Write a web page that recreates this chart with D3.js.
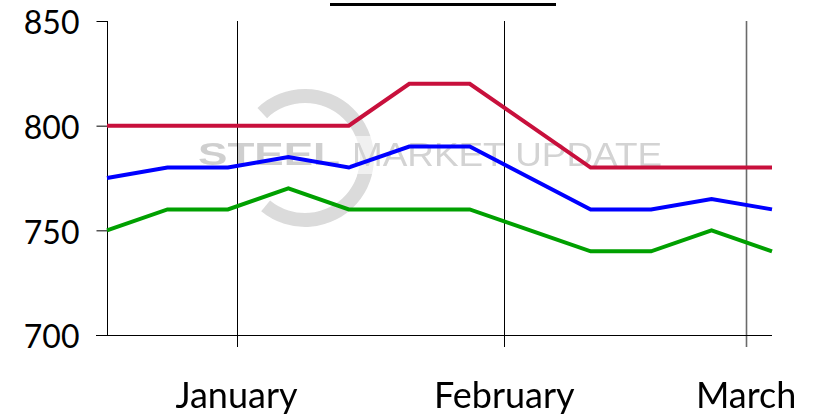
<!DOCTYPE html>
<html>
<head>
<meta charset="utf-8">
<script src="https://cdn.jsdelivr.net/npm/d3@7"></script>
<style>
  html, body { margin: 0; padding: 0; background: #fff; }
  svg { display: block; }
</style>
</head>
<body>
<svg id="chart" width="815" height="418"></svg>
<script>
// ---- data ----
const weeks = ["2018-12-17","2018-12-24","2018-12-31","2019-01-07","2019-01-14","2019-01-21",
               "2019-01-28","2019-02-04","2019-02-11","2019-02-18","2019-02-25","2019-03-04"];
const redSeries   = [800, 800, 800, 800, 800, 820, 820, 800, 780, 780, 780, 780];
const blueSeries  = [775, 780, 780, 785, 780, 790, 790, 775, 760, 760, 765, 760];
const greenSeries = [750, 760, 760, 770, 760, 760, 760, 750, 740, 740, 750, 740];
const monthTicks  = ["2019-01-01", "2019-02-01", "2019-03-01"];
const monthLabels = ["January", "February", "March"];
const yTicks      = [700, 750, 800, 850];

(function () {
// ---- layout ----
const mL = 107, mR = 772, mT = 21, mB = 335;
const parse = d3.utcParse("%Y-%m-%d");
const dates = weeks.map(parse);

const svg = d3.select("#chart");
const x = d3.scaleUtc().domain([dates[0], dates[dates.length - 1]]).range([mL, mR]);
const y = d3.scaleLinear().domain([700, 850]).range([mB, mT]);

// title underline fragment at top
svg.append("line")
  .attr("x1", 330).attr("x2", 556).attr("y1", 4.5).attr("y2", 4.5)
  .attr("stroke", "#000").attr("stroke-width", 3);

// ---- watermark ----
const wm = svg.append("g").attr("opacity", 0.8);
const arc = d3.arc()
  .innerRadius(55).outerRadius(69)
  .startAngle(-0.76).endAngle(3.83);
wm.append("path").attr("d", arc()).attr("transform", "translate(305,158)")
  .attr("fill", "#d2d2d2");
wm.append("rect").attr("x", 190).attr("y", 136).attr("width", 480).attr("height", 38)
  .attr("fill", "#fff").attr("opacity", 0.6);
wm.append("text").text("STEEL")
  .attr("x", 198).attr("y", 165)
  .attr("font-family", "Liberation Sans, Arial, sans-serif")
  .attr("font-weight", "bold").attr("font-size", 32)
  .attr("textLength", 142).attr("lengthAdjust", "spacingAndGlyphs")
  .attr("fill", "#c4c4c4");
wm.append("text").text("MARKET UPDATE")
  .attr("x", 352).attr("y", 166)
  .attr("font-family", "Liberation Sans, Arial, sans-serif")
  .attr("font-size", 33)
  .attr("textLength", 310).attr("lengthAdjust", "spacingAndGlyphs")
  .attr("fill", "#c8c8c8");

// ---- month grid lines & ticks ----
const mt = monthTicks.map(parse);
svg.append("g").selectAll("line").data(mt).join("line")
  .attr("x1", d => Math.round(x(d)) + 0.5).attr("x2", d => Math.round(x(d)) + 0.5)
  .attr("y1", mT).attr("y2", mB + 12)
  .attr("stroke", (d, i) => i === 2 ? "#6a6a6a" : "#000")
  .attr("stroke-width", (d, i) => i === 2 ? 1.6 : 1);

// month labels
svg.append("g").selectAll("text").data(mt).join("text")
  .attr("x", d => x(d)).attr("y", 408)
  .attr("text-anchor", "middle")
  .attr("font-family", "Lato, 'Open Sans', sans-serif")
  .attr("font-size", 36)
  .attr("fill", "#000")
  .text((d, i) => monthLabels[i]);

// ---- y axis ----
const yAxis = d3.axisLeft(y).tickValues(yTicks).tickSize(11).tickPadding(17).tickFormat(d3.format("d"));
const ya = svg.append("g").attr("transform", `translate(${mL + 0.5},0)`).call(yAxis);
ya.select(".domain").remove();
ya.selectAll(".tick line").attr("stroke", "#000");
ya.selectAll(".tick text")
  .attr("font-family", "Lato, 'Open Sans', sans-serif")
  .attr("font-size", 32).attr("fill", "#000").attr("dy", "0.4em");

// axis lines
svg.append("line").attr("x1", mL + 0.5).attr("x2", mL + 0.5).attr("y1", mT).attr("y2", mB)
  .attr("stroke", "#000");
svg.append("line").attr("x1", mL - 11).attr("x2", mR).attr("y1", mB + 0.5).attr("y2", mB + 0.5)
  .attr("stroke", "#000");

// ---- series ----
const line = d3.line().x((d, i) => x(dates[i])).y(d => y(d));
const series = [
  { values: redSeries,   color: "#c8103c" },
  { values: blueSeries,  color: "#0000ff" },
  { values: greenSeries, color: "#00a000" }
];
svg.append("g").selectAll("path").data(series).join("path")
  .attr("d", s => line(s.values))
  .attr("fill", "none")
  .attr("stroke", s => s.color)
  .attr("stroke-width", 4)
  .attr("stroke-linejoin", "miter");
})();
</script>
</body>
</html>
